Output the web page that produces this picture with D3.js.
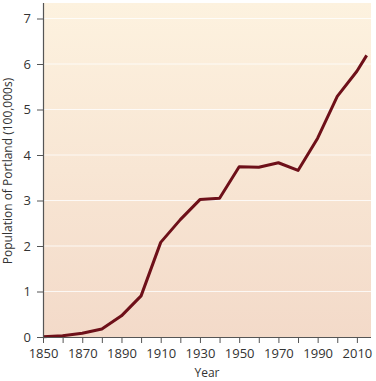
<!DOCTYPE html>
<html><head><meta charset="utf-8">
<script src="https://cdn.jsdelivr.net/npm/d3@7"></script>
<style>body{margin:0;background:#fff}svg{display:block}text{font-family:"Open Sans",sans-serif;fill:#333}</style>
</head><body><svg id="c" width="376" height="381"></svg>
<script>
const years = [1850,1860,1870,1880,1890,1900,1910,1920,1930,1940,1950,1960,1970,1980,1990,2000,2010,2015];
const population = [0.008,0.029,0.083,0.176,0.465,0.904,2.08,2.58,3.02,3.05,3.74,3.73,3.83,3.66,4.37,5.29,5.84,6.19];
const xTicks = [1850,1860,1870,1880,1890,1900,1910,1920,1930,1940,1950,1960,1970,1980,1990,2000,2010];
const xLabels = [1850,1870,1890,1910,1930,1950,1970,1990,2010];
const yTicks = [0,1,2,3,4,5,6,7];

const svg = d3.select("#c");
const L=43, R=371, T=3, B=337;
const x = d3.scaleLinear().domain([1850,2017.2]).range([L,R]);
const y = d3.scaleLinear().domain([0,7]).range([B,B-7*45.5]);

const defs = svg.append("defs");
const g = defs.append("linearGradient").attr("id","bg").attr("x1",0).attr("y1",0).attr("x2",0).attr("y2",1);
g.append("stop").attr("offset","0%").attr("stop-color","#fdf2df");
g.append("stop").attr("offset","100%").attr("stop-color","#f3dac9");
svg.append("rect").attr("x",L).attr("y",T).attr("width",R-L).attr("height",B-T).attr("fill","url(#bg)");

svg.append("g").selectAll("line").data(yTicks.slice(1)).join("line")
  .attr("x1",L).attr("x2",R).attr("y1",d=>y(d)).attr("y2",d=>y(d))
  .attr("stroke","#fff").attr("stroke-width",1).attr("opacity",0.8);

const line = d3.line().x((d,i)=>x(years[i])).y(d=>y(d));
svg.append("path").datum(population).attr("d",line).attr("fill","none")
  .attr("stroke","#6e1019").attr("stroke-width",3).attr("stroke-linejoin","round");

// axes
const xa = svg.append("g").attr("transform",`translate(0,${B})`)
  .call(d3.axisBottom(x).tickValues(xTicks).tickSize(6).tickFormat(d=>xLabels.includes(d)?d:""));
xa.select(".domain").attr("d",`M${L},0.5H${R}`).attr("stroke","#555").attr("stroke-width",1.2);
xa.selectAll(".tick line").attr("stroke","#555");
xa.selectAll("text").attr("font-size",13).attr("dy","0.9em").style("fill","#333");

const ya = svg.append("g").attr("transform",`translate(${L},0)`)
  .call(d3.axisLeft(y).tickValues(yTicks).tickFormat(d3.format("d")).tickSize(6).tickPadding(6));
ya.select(".domain").attr("d",`M0.5,${B}V${T}`).attr("stroke","#555").attr("stroke-width",1.2);
ya.selectAll(".tick line").attr("stroke","#555");
ya.selectAll("text").attr("font-size",13).style("fill","#333");
xa.attr("font-family",null); ya.attr("font-family",null);

svg.append("text").attr("x",207).attr("y",377).attr("text-anchor","middle").attr("font-size",12).text("Year");
svg.append("text").attr("transform","translate(12,171) rotate(-90)").attr("text-anchor","middle")
  .attr("font-size",12).text("Population of Portland (100,000s)");
</script></body></html>
